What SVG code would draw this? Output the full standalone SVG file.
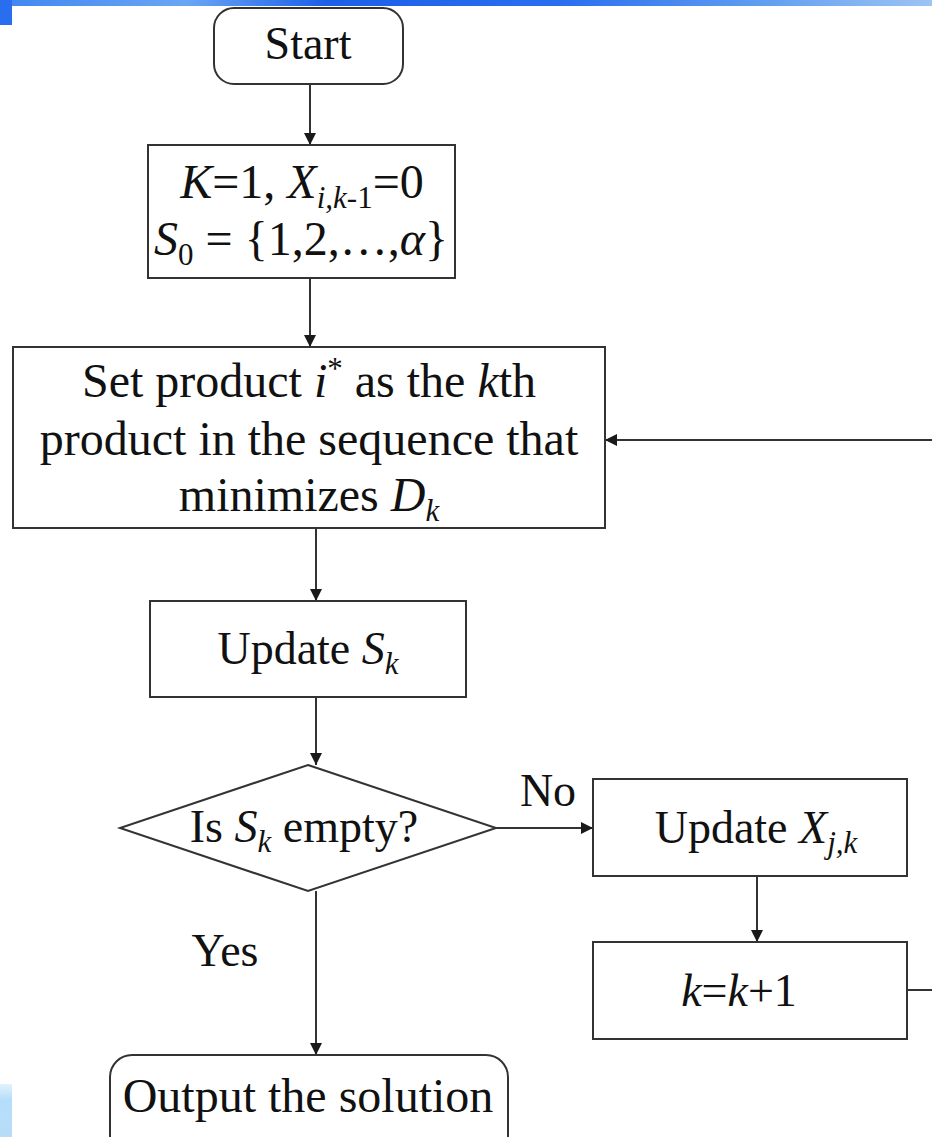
<svg xmlns="http://www.w3.org/2000/svg" width="932" height="1137" viewBox="0 0 932 1137">
  <defs>
    <linearGradient id="bandTop" x1="0" y1="0" x2="1" y2="0">
      <stop offset="0" stop-color="#3f86f0"/>
      <stop offset="0.2" stop-color="#6aa6f5"/>
      <stop offset="0.35" stop-color="#1b5fe8"/>
      <stop offset="0.6" stop-color="#2a6ef0"/>
      <stop offset="0.8" stop-color="#5b9af0"/>
      <stop offset="1" stop-color="#9cc4f4"/>
    </linearGradient>
    <linearGradient id="bandLow" x1="0" y1="0" x2="0" y2="1">
      <stop offset="0" stop-color="#e2f2fd"/>
      <stop offset="0.3" stop-color="#b5defa"/>
      <stop offset="1" stop-color="#b8dcf8"/>
    </linearGradient>
    <marker id="arrow" viewBox="0 0 10 10" refX="10" refY="5" markerWidth="12" markerHeight="12" markerUnits="userSpaceOnUse" orient="auto">
      <path d="M0,0 L10,5 L0,10 z" fill="#1a1a1a"/>
    </marker>
    <style>
      .box { fill: #ffffff; stroke: #333333; stroke-width: 2; }
      .edge { fill: none; stroke: #333333; stroke-width: 2; }
      .lbl { font-family: "Liberation Serif", "Times New Roman", serif; font-size: 46px; fill: #111111; text-anchor: middle; }
      .big { font-size: 48px; }
      .it { font-style: italic; }
      .sub { font-size: 31px; }
    </style>
  </defs>

  <!-- page background -->
  <rect x="0" y="0" width="932" height="1137" fill="#ffffff"/>
  <rect x="0" y="0" width="932" height="6" fill="url(#bandTop)"/>
  <rect x="0" y="0" width="12" height="25" fill="#2a6ef0"/>
  <rect x="0" y="1084" width="12" height="53" fill="url(#bandLow)"/>

  <!-- connectors -->
  <g id="connectors">
    <line class="edge" x1="310" y1="84" x2="310" y2="145" marker-end="url(#arrow)"/>
    <line class="edge" x1="310" y1="278" x2="310" y2="347" marker-end="url(#arrow)"/>
    <line class="edge" x1="316" y1="528" x2="316" y2="601" marker-end="url(#arrow)"/>
    <line class="edge" x1="316" y1="697" x2="316" y2="765" marker-end="url(#arrow)"/>
    <line class="edge" x1="496" y1="828" x2="593" y2="828" marker-end="url(#arrow)"/>
    <line class="edge" x1="757" y1="876" x2="757" y2="942" marker-end="url(#arrow)"/>
    <line class="edge" x1="316" y1="891" x2="316" y2="1055" marker-end="url(#arrow)"/>
    <line class="edge" x1="907" y1="990" x2="932" y2="990"/>
    <line class="edge" x1="932" y1="440" x2="605" y2="440" marker-end="url(#arrow)"/>
    <text class="lbl" x="548" y="806">No</text>
    <text class="lbl" x="225" y="966">Yes</text>
  </g>

  <g id="start">
    <rect class="box" x="214" y="8" width="189" height="76" rx="20"/>
    <text class="lbl" x="308" y="59">Start</text>
  </g>

  <g id="init">
    <rect class="box" x="148" y="145" width="307" height="133"/>
    <text class="lbl big" x="302" y="198"><tspan class="it">K</tspan>=1, <tspan class="it">X</tspan><tspan class="sub it" dy="10">i,k</tspan><tspan class="sub">-1</tspan><tspan dy="-10">=0</tspan></text>
    <text class="lbl big" x="301" y="255"><tspan class="it">S</tspan><tspan class="sub" dy="10">0</tspan><tspan dy="-10"> = {1,2,…,</tspan><tspan class="it">α</tspan>}</text>
  </g>

  <g id="select">
    <rect class="box" x="13" y="347" width="592" height="181"/>
    <text class="lbl big" x="309" y="397">Set product <tspan class="it">i</tspan><tspan class="sub" dy="-18">*</tspan><tspan dy="18"> as the </tspan><tspan class="it">k</tspan>th</text>
    <text class="lbl big" x="309" y="455">product in the sequence that</text>
    <text class="lbl big" x="309" y="511">minimizes <tspan class="it">D</tspan><tspan class="sub it" dy="10">k</tspan></text>
  </g>

  <g id="update-s">
    <rect class="box" x="150" y="601" width="316" height="96"/>
    <text class="lbl" x="308" y="664">Update <tspan class="it">S</tspan><tspan class="sub it" dy="10">k</tspan></text>
  </g>

  <g id="decision">
    <polygon class="box" points="308,765 496,828 308,891 120,828"/>
    <text class="lbl" x="304" y="842">Is <tspan class="it">S</tspan><tspan class="sub it" dy="10">k</tspan><tspan dy="-10"> empty?</tspan></text>
  </g>

  <g id="update-x">
    <rect class="box" x="593" y="779" width="314" height="97"/>
    <text class="lbl" x="756" y="843">Update <tspan class="it">X</tspan><tspan class="sub it" dy="10">j,k</tspan></text>
  </g>

  <g id="increment">
    <rect class="box" x="593" y="942" width="314" height="97"/>
    <text class="lbl" x="739" y="1006"><tspan class="it">k</tspan>=<tspan class="it">k</tspan>+1</text>
  </g>

  <g id="output">
    <rect class="box" x="110" y="1055" width="398" height="110" rx="22"/>
    <text class="lbl big" x="308" y="1112">Output the solution</text>
  </g>
</svg>
